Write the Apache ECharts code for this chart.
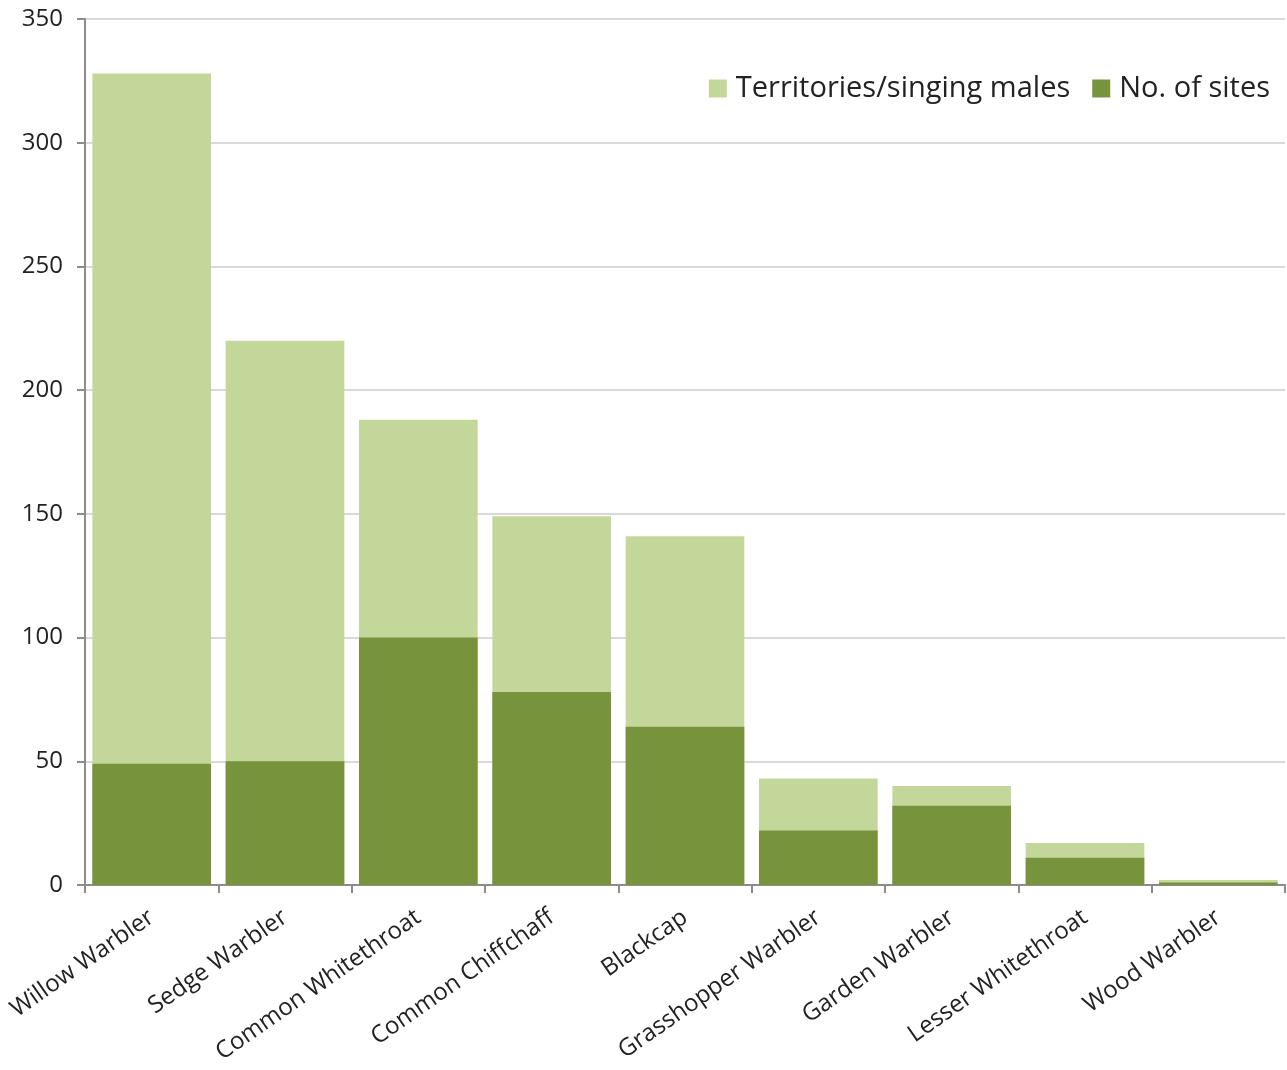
<!DOCTYPE html>
<html>
<head>
<meta charset="utf-8">
<script src="https://cdn.jsdelivr.net/npm/echarts@6/dist/echarts.min.js"></script>
<style>html,body{margin:0;padding:0;background:#fff;}#c{width:1287px;height:1070px;}</style>
</head>
<body>
<div id="c"></div>
<script>
const categories = ["Willow Warbler","Sedge Warbler","Common Whitethroat","Common Chiffchaff","Blackcap","Grasshopper Warbler","Garden Warbler","Lesser Whitethroat","Wood Warbler"];
const territories = [328, 220, 188, 149, 141, 43, 40, 17, 2];
const sites = [49, 50, 100, 78, 64, 22, 32, 11, 1];
const yTicks = [0, 50, 100, 150, 200, 250, 300, 350];

const chart = echarts.init(document.getElementById('c'));
const font = "'Open Sans', 'DejaVu Sans', sans-serif";
chart.setOption({
  animation: false,
  textStyle: { fontFamily: font },
  grid: { left: 85, right: 2, top: 19, bottom: 185, containLabel: false },
  legend: {
    top: 69, right: 12,
    itemWidth: 18, itemHeight: 18, itemGap: 22,
    icon: 'rect',
    textStyle: { fontSize: 29, color: '#222', fontFamily: font, padding: [0, 0, 0, 4] },
    data: ['Territories/singing males', 'No. of sites']
  },
  xAxis: {
    type: 'category',
    data: categories,
    boundaryGap: true,
    axisLine: { lineStyle: { color: '#8c8c8c', width: 2 } },
    axisTick: { show: true, alignWithLabel: false, length: 8, lineStyle: { color: '#8c8c8c', width: 2 } },
    axisLabel: { rotate: 35, fontSize: 24, color: '#222', interval: 0, margin: 30, fontFamily: font }
  },
  yAxis: {
    type: 'value',
    min: yTicks[0], max: yTicks[yTicks.length - 1], interval: 50,
    axisLine: { show: true, lineStyle: { color: '#8c8c8c', width: 2 } },
    axisTick: { show: true, length: 8, lineStyle: { color: '#8c8c8c', width: 2 } },
    splitLine: { lineStyle: { color: '#d9d9d9', width: 2 } },
    axisLabel: { fontSize: 24, color: '#222', margin: 22, fontFamily: font }
  },
  series: [
    {
      name: 'Territories/singing males', type: 'bar', data: territories,
      barWidth: '89%', barGap: '-100%',
      itemStyle: { color: '#c4d79b' }
    },
    {
      name: 'No. of sites', type: 'bar', data: sites,
      barWidth: '89%', barGap: '-100%',
      itemStyle: { color: '#77933c' }
    }
  ]
});
</script>
</body>
</html>
